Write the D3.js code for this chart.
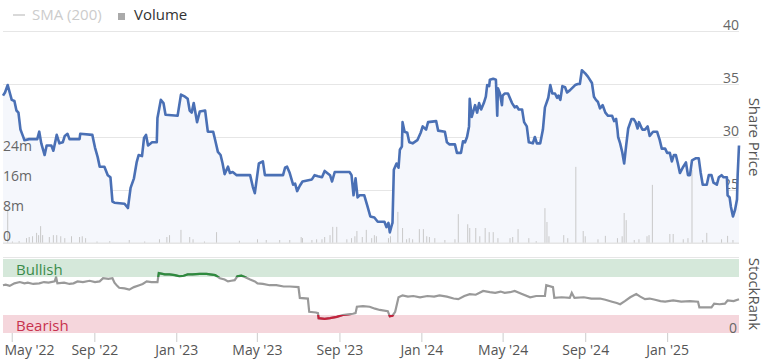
<!DOCTYPE html>
<html><head><meta charset="utf-8">
<script src="https://cdn.jsdelivr.net/npm/d3@7"></script>
<style>body{margin:0;background:#fff;} text{font-family:"Open Sans",sans-serif;}</style>
</head><body><svg id="c" width="772" height="359"></svg>
<script>
const priceData = [
["2022-04-18",33.9],["2022-04-21",34.2],["2022-04-25",34.9],["2022-04-28",34.2],["2022-05-01",33.5],["2022-05-05",33.4],
["2022-05-08",32.5],["2022-05-11",32.3],["2022-05-14",30.7],["2022-05-17",30.2],["2022-05-20",29.7],["2022-05-27",29.8],
["2022-06-08",29.8],["2022-06-11",30.5],["2022-06-14",29.4],["2022-06-19",28.3],["2022-06-22",29.2],["2022-06-29",29.2],
["2022-07-02",28.7],["2022-07-07",30.2],["2022-07-11",29.4],["2022-07-16",29.5],["2022-07-19",30.1],["2022-07-23",30.3],
["2022-07-26",29.8],["2022-08-10",29.8],["2022-08-11",30.3],["2022-08-29",30.2],["2022-09-02",29.0],["2022-09-06",28.1],
["2022-09-09",27.2],["2022-09-16",27.2],["2022-09-21",26.4],["2022-09-25",26.2],["2022-09-28",23.9],["2022-10-01",23.8],
["2022-10-16",23.7],["2022-10-21",23.3],["2022-10-25",25.2],["2022-10-30",26.1],["2022-11-03",27.6],["2022-11-06",28.3],
["2022-11-11",28.2],["2022-11-14",29.9],["2022-11-17",30.2],["2022-11-20",29.2],["2022-11-26",29.5],["2022-12-03",29.5],
["2022-12-04",31.8],["2022-12-09",33.5],["2022-12-13",33.2],["2022-12-16",32.1],["2023-01-03",32.0],["2023-01-08",34.0],
["2023-01-14",33.8],["2023-01-18",33.6],["2023-01-21",32.5],["2023-01-24",32.3],["2023-01-27",33.2],["2023-02-01",31.4],
["2023-02-05",32.4],["2023-02-13",32.5],["2023-02-17",30.5],["2023-02-25",30.5],["2023-02-28",29.7],["2023-03-04",28.6],
["2023-03-08",28.3],["2023-03-11",27.5],["2023-03-14",26.5],["2023-03-19",27.2],["2023-03-22",26.6],["2023-03-26",26.7],
["2023-04-01",26.4],["2023-04-21",26.4],["2023-04-25",25.3],["2023-04-28",24.7],["2023-05-01",26.1],["2023-05-04",27.5],
["2023-05-10",27.7],["2023-05-13",26.4],["2023-06-09",26.4],["2023-06-12",27.1],["2023-06-15",27.2],["2023-06-19",26.6],
["2023-06-24",25.5],["2023-06-27",25.6],["2023-06-30",24.9],["2023-07-04",25.4],["2023-07-08",25.8],["2023-07-22",26.0],
["2023-07-26",26.4],["2023-07-31",26.3],["2023-08-06",26.2],["2023-08-10",26.8],["2023-08-18",26.4],["2023-08-21",25.8],
["2023-08-25",26.7],["2023-09-16",26.7],["2023-09-19",26.4],["2023-09-22",24.5],["2023-09-25",26.1],["2023-09-28",24.3],
["2023-10-01",24.5],["2023-10-08",24.5],["2023-10-13",23.4],["2023-10-17",22.5],["2023-10-23",22.4],["2023-10-28",22.0],
["2023-11-07",22.0],["2023-11-10",21.5],["2023-11-13",21.9],["2023-11-15",21.0],["2023-11-18",21.7],["2023-11-19",21.9],
["2023-11-21",26.9],["2023-11-25",27.5],["2023-11-28",27.1],["2023-11-30",28.8],["2023-12-03",29.1],["2023-12-04",31.4],
["2023-12-07",30.5],["2023-12-11",30.4],["2023-12-14",29.5],["2023-12-19",29.4],["2023-12-26",29.7],["2023-12-31",30.4],
["2024-01-03",31.0],["2024-01-08",30.7],["2024-01-11",31.4],["2024-01-23",31.5],["2024-01-26",30.6],["2024-02-05",30.5],
["2024-02-08",29.5],["2024-02-12",29.3],["2024-02-20",29.3],["2024-02-23",28.5],["2024-02-29",28.5],["2024-03-03",29.6],
["2024-03-06",29.5],["2024-03-09",30.0],["2024-03-12",31.0],["2024-03-13",33.6],["2024-03-16",31.9],["2024-03-21",33.0],
["2024-03-24",32.3],["2024-03-27",33.2],["2024-03-30",32.6],["2024-04-03",33.2],["2024-04-06",33.8],["2024-04-08",34.9],
["2024-04-11",34.8],["2024-04-12",35.4],["2024-04-17",35.5],["2024-04-21",35.4],["2024-04-23",32.0],["2024-04-24",34.6],
["2024-04-27",34.1],["2024-04-30",33.0],["2024-05-01",33.9],["2024-05-04",34.1],["2024-05-09",34.1],["2024-05-15",33.2],
["2024-05-19",32.8],["2024-05-22",32.9],["2024-05-25",32.6],["2024-05-30",32.6],["2024-06-02",31.4],["2024-06-06",31.0],
["2024-06-09",29.5],["2024-06-15",29.4],["2024-06-18",30.0],["2024-06-21",29.4],["2024-06-26",29.4],["2024-06-30",30.7],
["2024-07-03",32.8],["2024-07-08",33.7],["2024-07-11",34.9],["2024-07-14",34.1],["2024-07-18",34.1],["2024-07-21",33.7],
["2024-07-23",33.9],["2024-07-26",33.5],["2024-07-29",34.8],["2024-08-02",34.7],["2024-08-05",34.2],["2024-08-09",34.4],
["2024-08-17",34.9],["2024-08-21",35.0],["2024-08-24",35.0],["2024-08-27",36.3],["2024-09-01",36.0],["2024-09-05",35.7],
["2024-09-11",35.1],["2024-09-14",33.8],["2024-09-17",33.5],["2024-09-20",33.3],["2024-09-23",32.7],["2024-09-27",33.0],
["2024-10-01",32.3],["2024-10-05",32.0],["2024-10-11",32.0],["2024-10-14",31.5],["2024-10-17",31.7],["2024-10-19",30.7],
["2024-10-20",30.0],["2024-10-23",29.4],["2024-10-26",28.6],["2024-10-29",27.5],["2024-11-01",29.2],["2024-11-04",30.8],
["2024-11-09",31.7],["2024-11-12",31.7],["2024-11-15",31.4],["2024-11-18",30.8],["2024-11-20",31.4],["2024-11-25",30.7],
["2024-11-29",30.7],["2024-12-03",31.0],["2024-12-06",30.1],["2024-12-11",30.5],["2024-12-17",30.5],["2024-12-21",29.7],
["2024-12-24",28.9],["2024-12-29",28.9],["2025-01-01",28.5],["2025-01-05",28.5],["2025-01-08",27.7],["2025-01-11",28.3],
["2025-01-14",28.3],["2025-01-17",27.5],["2025-01-20",26.6],["2025-01-25",27.2],["2025-01-29",27.6],["2025-02-01",26.4],
["2025-02-04",26.4],["2025-02-07",27.8],["2025-02-13",28.0],["2025-02-17",28.0],["2025-02-20",26.6],["2025-02-23",25.5],
["2025-03-01",25.5],["2025-03-04",26.4],["2025-03-08",26.4],["2025-03-11",25.7],["2025-03-16",25.5],["2025-03-19",26.2],
["2025-03-23",26.4],["2025-03-26",26.2],["2025-03-31",26.2],["2025-04-01",24.5],["2025-04-04",24.3],["2025-04-06",23.4],
["2025-04-07",23.1],["2025-04-09",22.5],["2025-04-12",23.1],["2025-04-15",24.1],["2025-04-16",26.4],["2025-04-18",29.2]
];
const volumeData = [
["2022-04-25",8.8],["2022-05-02",0.4],["2022-05-12",0.5],["2022-05-23",1.3],["2022-05-27",1.6],["2022-06-01",1.8],["2022-06-07",2.7],
["2022-06-10",2.1],["2022-06-13",4.5],["2022-06-16",2.1],["2022-06-26",1.6],["2022-07-02",2.1],["2022-07-07",2.1],
["2022-07-13",1.8],["2022-07-19",1.3],["2022-07-29",1.8],["2022-08-10",1.6],["2022-08-14",1.8],["2022-08-19",1.3],
["2022-09-05",0.4],["2022-09-24",0.5],["2022-10-23",0.8],["2022-11-15",0.4],["2022-12-07",1.0],["2022-12-18",1.6],["2022-12-22",2.1],
["2023-01-08",3.5],["2023-01-21",1.6],["2023-01-26",1.0],["2023-02-12",0.4],["2023-03-02",2.9],["2023-04-05",0.6],
["2023-05-02",1.0],["2023-05-15",0.8],["2023-06-04",0.8],["2023-06-19",0.8],["2023-07-06",1.6],["2023-07-08",1.3],
["2023-07-22",0.8],["2023-07-29",1.0],["2023-08-06",1.0],["2023-08-10",1.6],["2023-08-18",2.1],["2023-08-22",4.3],
["2023-08-28",4.3],["2023-09-12",1.0],["2023-09-19",1.3],["2023-09-24",1.8],["2023-09-27",3.2],["2023-10-05",1.6],
["2023-10-11",3.5],["2023-10-19",1.3],["2023-10-23",2.1],["2023-10-26",1.8],["2023-11-13",1.3],["2023-11-16",1.8],
["2023-11-27",8.3],["2023-12-04",4.0],["2023-12-10",1.0],["2023-12-14",1.3],["2023-12-19",1.0],["2023-12-29",3.7],
["2024-01-04",3.7],["2024-01-09",1.8],["2024-01-13",1.6],["2024-01-21",1.3],["2024-02-05",0.8],["2024-02-20",1.0],
["2024-02-25",7.7],["2024-03-10",5.0],["2024-03-13",4.0],["2024-03-22",4.0],["2024-03-28",1.8],["2024-04-05",4.0],
["2024-04-11",2.9],["2024-04-17",2.9],["2024-04-24",1.3],["2024-05-12",1.3],["2024-05-16",1.6],["2024-05-24",3.7],
["2024-06-09",1.3],["2024-06-20",0.5],["2024-07-03",9.3],["2024-07-06",5.6],["2024-07-09",1.8],["2024-07-31",2.1],["2024-08-06",1.3],
["2024-08-18",20.3],["2024-08-29",3.2],["2024-09-01",1.8],["2024-09-20",1.0],["2024-10-01",1.9],["2024-10-19",1.3],
["2024-10-26",1.8],["2024-10-29",8.0],["2024-11-01",6.1],["2024-11-13",0.8],["2024-11-20",1.0],["2024-12-02",1.8],
["2024-12-05",2.1],["2024-12-10",15.5],["2025-01-05",2.4],["2025-01-10",2.4],["2025-01-25",1.0],["2025-02-01",1.3],
["2025-02-07",19.5],["2025-02-23",0.8],["2025-03-01",2.7],["2025-03-23",1.0],["2025-04-01",1.9],["2025-04-09",0.8]
];
const rankData = [
["2022-04-18",67],["2022-04-22",68],["2022-04-28",66],["2022-05-05",70],["2022-05-13",72],["2022-05-20",70],["2022-05-25",71],
["2022-06-02",69],["2022-06-11",70],["2022-06-18",72],["2022-06-25",71],["2022-07-04",73],
["2022-07-06",80],["2022-07-08",70],["2022-07-18",71],["2022-07-26",69],["2022-08-01",70],["2022-08-07",73],["2022-08-15",72],
["2022-08-25",74],["2022-09-02",72],["2022-09-09",73],["2022-09-14",78],["2022-09-22",77],
["2022-09-28",78],["2022-10-01",71],["2022-10-05",66],["2022-10-08",63],["2022-10-16",62],["2022-10-23",60],["2022-10-30",64],
["2022-11-07",67],["2022-11-12",69],["2022-11-18",73],["2022-11-25",72],["2022-12-04",72],
["2022-12-06",86],["2022-12-15",84],["2022-12-22",84],["2022-12-30",83],["2023-01-06",81],["2023-01-12",82],["2023-01-18",84],
["2023-01-25",84],["2023-02-05",85],["2023-02-15",85],["2023-02-28",83],
["2023-03-07",78],["2023-03-14",76],["2023-03-19",73],["2023-03-24",74],["2023-03-29",75],["2023-04-02",81],["2023-04-08",82],
["2023-04-13",80],["2023-04-21",76],["2023-04-28",73],["2023-05-02",70],["2023-05-10",69],
["2023-05-20",67],["2023-05-30",67],["2023-06-10",65],["2023-06-19",65],["2023-07-02",64],["2023-07-04",47],["2023-07-16",46],
["2023-07-18",25],["2023-07-28",24],["2023-07-31",23],
["2023-08-01",15],["2023-08-10",14],["2023-08-18",15],["2023-08-28",17],["2023-09-06",20],["2023-09-14",21],["2023-09-21",22],
["2023-09-25",23],["2023-09-27",33],["2023-10-06",34],["2023-10-16",33],["2023-10-24",30],
["2023-10-31",28],["2023-11-12",26],["2023-11-15",18],["2023-11-19",19],["2023-11-23",25],["2023-11-28",48],["2023-12-04",51],
["2023-12-12",49],["2023-12-20",50],["2023-12-30",48],["2024-01-10",50],["2024-01-20",49],
["2024-01-28",51],["2024-02-08",49],["2024-02-18",46],["2024-02-25",45],["2024-03-05",50],["2024-03-13",53],["2024-03-22",52],
["2024-04-02",58],["2024-04-12",56],["2024-04-20",55],["2024-04-28",57],["2024-05-04",55],["2024-05-12",56],["2024-05-19",58],
["2024-05-28",54],["2024-06-11",48],["2024-06-20",50],["2024-07-03",50],["2024-07-05",67],["2024-07-15",64],["2024-07-17",47],
["2024-07-28",48],["2024-08-09",47],["2024-08-12",55],
["2024-08-16",47],["2024-08-30",48],["2024-09-10",46],["2024-09-23",46],["2024-10-01",44],["2024-10-11",41],["2024-10-18",39],
["2024-10-23",37],["2024-10-30",42],["2024-11-07",48],["2024-11-16",53],["2024-11-22",49],["2024-11-29",45],
["2024-12-06",46],["2024-12-14",44],["2024-12-22",42],["2024-12-29",41],["2025-01-10",43],["2025-01-22",41],["2025-02-04",42],
["2025-02-16",41],["2025-02-18",32],["2025-03-08",32],["2025-03-12",38],["2025-03-20",37],["2025-03-28",38],
["2025-04-01",43],["2025-04-10",42],["2025-04-18",45]
];
const priceTicks = [20, 25, 30, 35, 40];
const volumeTicks = [0, 8, 16, 24];
const volumeTickLabels = ["0", "8m", "16m", "24m"];
const rankTicks = [0];
const dateTicks = ["2022-05-01","2022-09-01","2023-01-01","2023-05-01","2023-09-01","2024-01-01","2024-05-01","2024-09-01","2025-01-01"];
const dateTickLabels = ["May '22","Sep '22","Jan '23","May '23","Sep '23","Jan '24","May '24","Sep '24","Jan '25"];

const parse = d3.timeParse("%Y-%m-%d");
const svg = d3.select("#c");
const L = 3, R = 739;
const x = d3.scaleTime().domain([parse("2022-04-18"), parse("2025-04-18")]).range([L, R]);
const yP = d3.scaleLinear().domain([20, 40]).range([243, 31]);
const yV = d3.scaleLinear().domain([0, 8]).range([243, 213]);
const yR = d3.scaleLinear().domain([0, 100]).range([327.7, 264.3]);

// legend
svg.append("line").attr("x1",13).attr("x2",25).attr("y1",15).attr("y2",15).attr("stroke","#cccccc").attr("stroke-width",1.5);
svg.append("text").attr("x",32).attr("y",20).attr("font-size",15).attr("fill","#cccccc").text("SMA (200)");
svg.append("rect").attr("x",118).attr("y",13).attr("width",7).attr("height",7).attr("fill","#aaaaaa");
svg.append("text").attr("x",134).attr("y",20).attr("font-size",15).attr("fill","#333333").text("Volume");

// price gridlines + right labels via axis
const gP = svg.append("g").attr("transform",`translate(${R},0)`)
  .call(d3.axisLeft(yP).tickValues(priceTicks).tickSize(R-L).tickFormat(d3.format("d")));
gP.select(".domain").remove();
gP.selectAll(".tick line").attr("stroke","#e6e6e6");
gP.selectAll(".tick text").attr("x",0).attr("dy",-2).attr("text-anchor","end").attr("font-size",14).attr("fill","#666666")
  .attr("font-family","Open Sans, sans-serif").style("dominant-baseline","auto");

// area + volume
const area = d3.area().x(d=>x(parse(d[0]))).y0(yP(20)).y1(d=>yP(d[1]));
svg.append("path").datum(priceData).attr("d",area).attr("fill","#f5f7fc");
svg.append("g").selectAll("rect").data(volumeData).join("rect")
  .attr("x",d=>x(parse(d[0]))-0.5).attr("width",1)
  .attr("y",d=>yV(d[1])).attr("height",d=>yV(0)-yV(d[1])).attr("fill","#c9c9c9");
svg.append("line").attr("x1",L).attr("x2",R).attr("y1",yP(20)).attr("y2",yP(20)).attr("stroke","#e3e3e3");

// left volume labels
const gV = svg.append("g").attr("transform",`translate(${L},0)`)
  .call(d3.axisRight(yV).tickValues(volumeTicks).tickSize(0).tickFormat((d,i)=>volumeTickLabels[i]));
gV.select(".domain").remove();
gV.selectAll(".tick text").attr("x",0).attr("dy",-3).attr("font-size",14).attr("fill","#666666")
  .attr("font-family","Open Sans, sans-serif").style("dominant-baseline","auto");

// price line
const line = d3.line().x(d=>x(parse(d[0]))).y(d=>yP(d[1]));
svg.append("path").datum(priceData).attr("d",line).attr("fill","none").attr("stroke","#4a70b5")
  .attr("stroke-width",2.6).attr("stroke-linejoin","round");

// right axis titles
svg.append("text").attr("transform","translate(749,137) rotate(90)").attr("text-anchor","middle")
  .attr("font-size",15).attr("fill","#555555").text("Share Price");
svg.append("text").attr("transform","translate(749,294) rotate(90)").attr("text-anchor","middle")
  .attr("font-size",15).attr("fill","#555555").text("StockRank");

// StockRank panel
svg.append("line").attr("x1",L).attr("x2",R).attr("y1",257.5).attr("y2",257.5).attr("stroke","#e6e6e6");
svg.append("rect").attr("x",L).attr("width",R-L).attr("y",259).attr("height",yR(80)-259).attr("fill","#d5e8da");
svg.append("rect").attr("x",L).attr("width",R-L).attr("y",yR(20)).attr("height",333-yR(20)).attr("fill","#f5d6dc");
svg.append("text").attr("x",16).attr("y",275).attr("font-size",15).attr("fill","#3b8c4b").text("Bullish");
svg.append("text").attr("x",16).attr("y",331).attr("font-size",15).attr("fill","#c8324e").text("Bearish");
const gR = svg.append("g").attr("transform",`translate(${R-2},0)`)
  .call(d3.axisLeft(yR).tickValues(rankTicks).tickSize(0));
gR.select(".domain").remove();
gR.selectAll(".tick text").attr("x",0).attr("text-anchor","end").attr("font-size",14).attr("fill","#666666")
  .attr("font-family","Open Sans, sans-serif");

const defs = svg.append("defs");
defs.append("clipPath").attr("id","cg").append("rect").attr("x",0).attr("y",0).attr("width",772).attr("height",yR(80));
defs.append("clipPath").attr("id","cr").append("rect").attr("x",0).attr("y",yR(20)).attr("width",772).attr("height",100);
const rl = d3.line().x(d=>x(parse(d[0]))).y(d=>yR(d[1]));
svg.append("path").datum(rankData).attr("d",rl).attr("fill","none").attr("stroke","#999999").attr("stroke-width",2.2);
svg.append("path").datum(rankData).attr("d",rl).attr("fill","none").attr("stroke","#2e8b3e").attr("stroke-width",2.2).attr("clip-path","url(#cg)");
svg.append("path").datum(rankData).attr("d",rl).attr("fill","none").attr("stroke","#c4223c").attr("stroke-width",2.2).attr("clip-path","url(#cr)");

// date axis
const gX = svg.append("g").attr("transform","translate(0,333)")
  .call(d3.axisBottom(x).tickValues(dateTicks.map(parse)).tickSize(9).tickFormat((d,i)=>dateTickLabels[i]));
gX.select(".domain").remove();
gX.selectAll(".tick line").attr("stroke","#cccccc");
gX.selectAll(".tick text").attr("y",12).attr("font-size",14).attr("fill","#555555").attr("font-family","Open Sans, sans-serif");
gX.selectAll(".tick text").filter((d,i)=>i===0).attr("text-anchor","start").attr("x",4 - x(parse(dateTicks[0])));
</script></body></html>
